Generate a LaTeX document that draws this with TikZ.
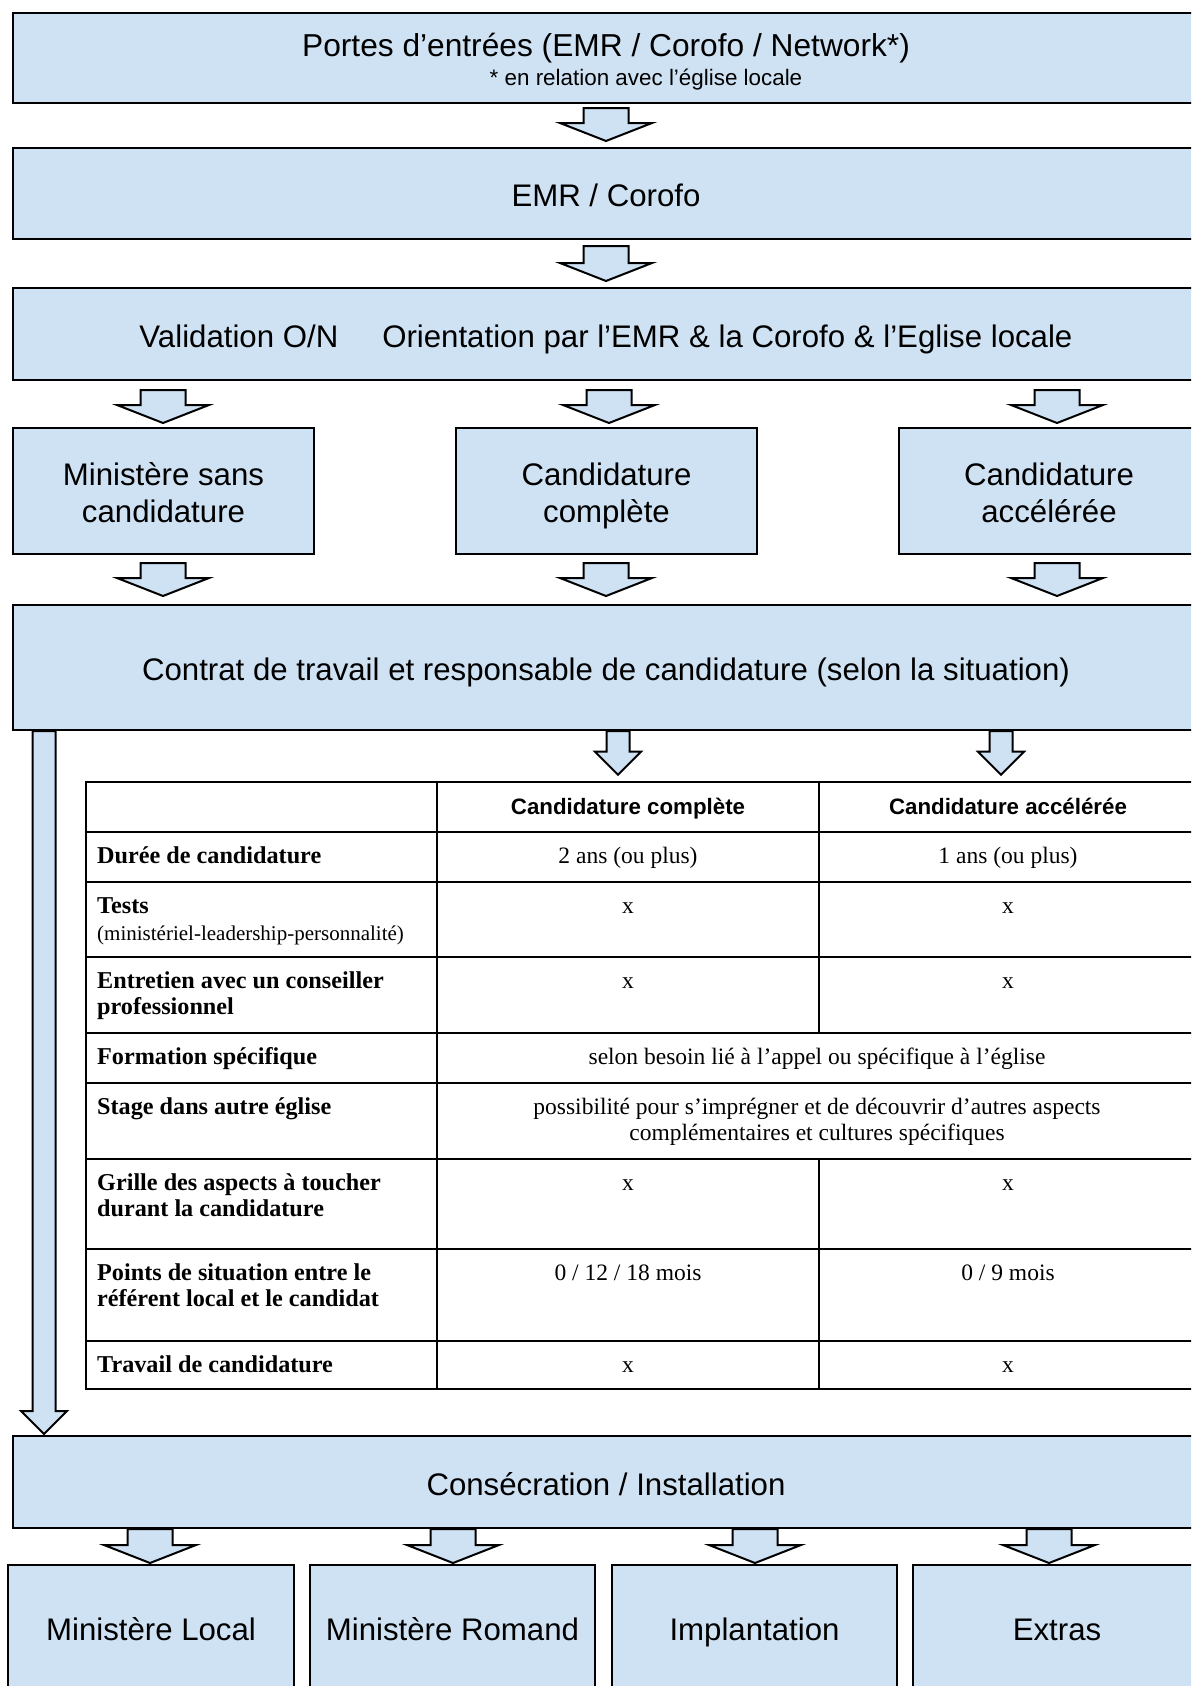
\documentclass[tikz,border=0pt]{standalone}
\usepackage{fontspec}
\setmainfont{Liberation Sans}
\newfontfamily\tabfont{Liberation Serif}
\usetikzlibrary{calc}

\definecolor{boxblue}{RGB}{207,226,243}
\newcommand{\topstrut}{\rule{0pt}{34pt}}
\newcommand{\botstrut}{\rule[-8pt]{0pt}{8pt}}

\tikzset{
  box/.style={draw=black, line width=2pt, fill=boxblue, inner sep=0pt, align=center,
    font=\fontsize{31.2}{36.5}\selectfont},
  arr/.style={draw=black, line width=2pt, fill=boxblue, line join=miter},
  wide/.code={\def\sw{22.5pt}\def\hw{46pt}\def\hl{18pt}},
  slim/.code={\def\sw{11.5pt}\def\hw{23pt}\def\hl{23pt}},
  tabline/.style={line width=2.6pt},
  lab/.style={anchor=north west, inner sep=0pt, align=left,
    font=\tabfont\bfseries\fontsize{24.2}{26}\selectfont},
  val/.style={anchor=north, inner sep=0pt, align=center,
    font=\tabfont\fontsize{23.5}{26}\selectfont},
  colhead/.style={anchor=base, inner sep=0pt, font=\bfseries\fontsize{22.3}{26}\selectfont},
}

\newcommand{\fatarrow}[6][wide]{%
  \filldraw[arr,#1] let \p1=(#2,0 |- #3.south), \p2=(#2,0 |- #4.north) in
    (\x1-\sw,\y1-#5) -- (\x1+\sw,\y1-#5) -- (\x1+\sw,\y2+#6+\hl) -- (\x1+\hw,\y2+#6+\hl)
    -- (\x1,\y2+#6) -- (\x1-\hw,\y2+#6+\hl) -- (\x1-\sw,\y2+#6+\hl) -- cycle;
}

\begin{document}
\begin{tikzpicture}[x=1pt,y=-1pt]
\useasboundingbox (0,0) rectangle (1191,1686);
\clip (0,0) rectangle (1191,1686);

\node[box, minimum width=1186pt, minimum height=90pt] (portes) at (606,58)
  {\rule{0pt}{31.5pt}{\fontsize{31.7}{36.5}\selectfont Portes d’entrées (EMR / Corofo / Network*)}\\[-7.5pt]
   {\fontsize{22.4}{26}\selectfont\hspace*{80pt}* en relation avec l’église locale}};
\node[box, minimum width=1186pt, minimum height=91pt] (emr) at (606,193.5) {\topstrut EMR / Corofo\botstrut};
\node[box, minimum width=1186pt, minimum height=92pt] (valid) at (606,334)
  {\topstrut Validation O/N\hspace{44pt}Orientation par l’EMR \& la Corofo \& l’Eglise locale\botstrut};

\node[box, minimum width=301pt, minimum height=126pt] (sans) at (163.5,491) {\topstrut Ministère sans\\candidature\botstrut};
\node[box, minimum width=301pt, minimum height=126pt] (compl) at (606.5,491) {\topstrut Candidature\\complète\botstrut};
\node[box, minimum width=300pt, minimum height=126pt] (accel) at (1049,491) {\topstrut Candidature\\accélérée\botstrut};

\node[box, minimum width=1186pt, minimum height=125pt] (contrat) at (606,667.5)
  {\topstrut Contrat de travail et responsable de candidature (selon la situation)\botstrut};

\node[draw, line width=2.6pt, inner sep=0pt, minimum width=1111pt, minimum height=607pt] (tab) at (641.5,1085.5) {};
\foreach \y in {832,882,957,1033,1083,1159,1249,1341} \draw[tabline] (86,\y)--(1197,\y);
\draw[tabline] (437,782)--(437,1389);
\draw[tabline] (819,782)--(819,1033) (819,1159)--(819,1389);

\node[colhead] (hcompl) at (628,814) {Candidature complète};
\node[colhead] (haccel) at (1008,814) {Candidature accélérée};

\node[lab] (duree) at (97,844.8) {\strut Durée de candidature};
\node[lab] (tests) at (97,894.8) {\strut Tests\\[1pt]{\mdseries\fontsize{21}{22}\selectfont(ministériel-leadership-personnalité)}};
\node[lab] (entret) at (97,969.8) {\strut Entretien avec un conseiller\\professionnel};
\node[lab] (format) at (97,1045.8) {\strut Formation spécifique};
\node[lab] (stage) at (97,1095.8) {\strut Stage dans autre église};
\node[lab] (grille) at (97,1171.8) {\strut Grille des aspects à toucher\\durant la candidature};
\node[lab] (points) at (97,1261.8) {\strut Points de situation entre le\\référent local et le candidat};
\node[lab] (travail) at (97,1353.8) {\strut Travail de candidature};

\node[val] (dureeA) at (628,844.8) {\strut 2 ans (ou plus)};
\node[val] (dureeB) at (1008,844.8) {\strut 1 ans (ou plus)};
\node[val] (testsA) at (628,894.8) {\strut x};
\node[val] (testsB) at (1008,894.8) {\strut x};
\node[val] (entretA) at (628,969.8) {\strut x};
\node[val] (entretB) at (1008,969.8) {\strut x};
\node[val] (formatAB) at (817,1045.8) {\strut selon besoin lié à l’appel ou spécifique à l’église};
\node[val] (stageAB) at (817,1095.8) {\strut possibilité pour s’imprégner et de découvrir d’autres aspects\\complémentaires et cultures spécifiques};
\node[val] (grilleA) at (628,1171.8) {\strut x};
\node[val] (grilleB) at (1008,1171.8) {\strut x};
\node[val] (pointsA) at (628,1261.8) {\strut 0 / 12 / 18 mois};
\node[val] (pointsB) at (1008,1261.8) {\strut 0 / 9 mois};
\node[val] (travailA) at (628,1353.8) {\strut x};
\node[val] (travailB) at (1008,1353.8) {\strut x};

\node[box, minimum width=1186pt, minimum height=92pt] (consec) at (606,1482) {\topstrut Consécration / Installation\botstrut};

\node[box, minimum width=286pt, minimum height=124pt] (local) at (151,1627) {\topstrut Ministère Local\botstrut};
\node[box, minimum width=285pt, minimum height=124pt] (romand) at (452.5,1627) {\topstrut Ministère Romand\botstrut};
\node[box, minimum width=285pt, minimum height=124pt] (implant) at (754.5,1627) {\topstrut Implantation\botstrut};
\node[box, minimum width=288pt, minimum height=124pt] (extras) at (1057,1627) {\topstrut Extras\botstrut};

\fatarrow{606}{portes}{emr}{4pt}{6pt}
\fatarrow{606}{emr}{valid}{6pt}{6pt}
\fatarrow{163}{valid}{sans}{9pt}{4pt}
\fatarrow{609}{valid}{compl}{9pt}{4pt}
\fatarrow{1057}{valid}{accel}{9pt}{4pt}
\fatarrow{163}{sans}{contrat}{8pt}{8pt}
\fatarrow{606}{compl}{contrat}{8pt}{8pt}
\fatarrow{1057}{accel}{contrat}{8pt}{8pt}
\fatarrow[slim]{618}{contrat}{tab}{0pt}{6pt}
\fatarrow[slim]{1001}{contrat}{tab}{0pt}{6pt}
\fatarrow[slim]{44}{contrat}{consec}{0pt}{1pt}
\fatarrow{150}{consec}{local}{0pt}{1pt}
\fatarrow{453}{consec}{romand}{0pt}{1pt}
\fatarrow{755}{consec}{implant}{0pt}{1pt}
\fatarrow{1049}{consec}{extras}{0pt}{1pt}
\end{tikzpicture}
\end{document}
